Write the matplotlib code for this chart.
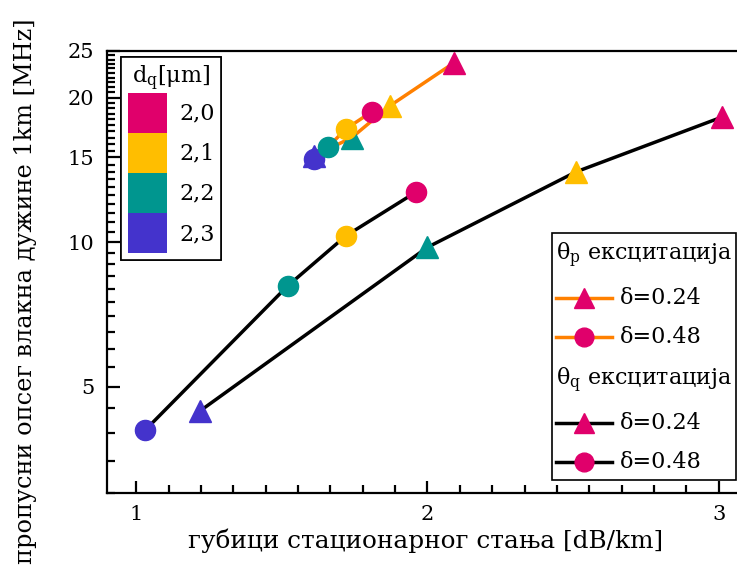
import numpy as np
import matplotlib
matplotlib.use("Agg")
import matplotlib.pyplot as plt
from matplotlib.ticker import FixedLocator, FuncFormatter, NullFormatter, AutoMinorLocator
from matplotlib.patches import Patch
from matplotlib.lines import Line2D
from matplotlib.offsetbox import (AnchoredOffsetbox, DrawingArea, HPacker,
                                  TextArea, VPacker)

plt.rcParams["font.family"] = ["DejaVu Serif"]
plt.rcParams["mathtext.fontset"] = "dejavuserif"

# ── Data ─────────────────────────────────────────────────
dq_labels = ["2,3", "2,2", "2,1", "2,0"]
dq_colors = ["#4433CC", "#00968F", "#FFBE00", "#E0006B"]

# theta_p excitation
p_tri_x = [1.61, 1.74, 1.87, 2.09]
p_tri_y = [15.1, 16.5, 19.2, 23.6]
p_circ_x = [1.61, 1.66, 1.72, 1.81]
p_circ_y = [14.9, 15.8, 17.2, 18.7]

# theta_q excitation
q_tri_x = [1.22, 2.00, 2.51, 3.01]
q_tri_y = [4.45, 9.75, 14.0, 18.2]
q_circ_x = [1.03, 1.52, 1.72, 1.96]
q_circ_y = [4.05, 8.1, 10.3, 12.7]

orange = "#FF8000"
tri_ms = 16
circ_ms = 14.5

fig = plt.figure(figsize=(7.37, 5.70), dpi=100)
ax = fig.add_axes([107 / 737, 1 - 493 / 570, (745 - 107) / 737, (493 - 51) / 570])

# ── Lines + markers ──────────────────────────────────────
for xs, ys, col, mk, ms in [
    (q_tri_x, q_tri_y, "black", "^", tri_ms),
    (q_circ_x, q_circ_y, "black", "o", circ_ms),
    (p_tri_x, p_tri_y, orange, "^", tri_ms),
    (p_circ_x, p_circ_y, orange, "o", circ_ms),
]:
    ax.plot(xs, ys, color=col, lw=2.5, zorder=2)
    for x, y, c in zip(xs, ys, dq_colors):
        ax.plot(x, y, marker=mk, ms=ms, color=c, mec=c, ls="none", zorder=3)

# ── Axes ─────────────────────────────────────────────────
ax.set_yscale("log")
ax.set_ylim(3, 25)
ax.set_xlim(0.9, 3.09)
ax.yaxis.set_major_locator(FixedLocator([5, 10, 15, 20, 25]))
ax.yaxis.set_major_formatter(FuncFormatter(lambda v, _: f"{v:g}"))
ax.yaxis.set_minor_locator(FixedLocator(np.arange(3, 25.01, 0.5)))
ax.yaxis.set_minor_formatter(NullFormatter())
ax.xaxis.set_major_locator(FixedLocator([1, 2, 3]))
ax.xaxis.set_minor_locator(AutoMinorLocator(9))
ax.tick_params(which="both", direction="in", top=False, right=False,
               labelsize=15, width=1.6)
ax.tick_params(which="major", length=9, pad=9)
ax.tick_params(which="minor", length=5.5)
for s in ax.spines.values():
    s.set_linewidth(1.6)
ax.spines["right"].set_visible(False)

ax.set_xlabel("губици стационарног стања [dB/km]", fontsize=17.8, labelpad=3)
ax.set_ylabel("пропусни опсег влакна дужине 1km [MHz]", fontsize=17.3)
ax.yaxis.set_label_coords(-0.11, 0.457)

# ── d_q colour legend ────────────────────────────────────
handles = [Patch(facecolor=c, edgecolor="none") for c in dq_colors[::-1]]
leg1 = ax.legend(handles, dq_labels[::-1], title="d$_\\mathrm{q}$[μm]",
                 loc="upper left", bbox_to_anchor=(121 / 737, 1 - 57 / 570),
                 bbox_transform=fig.transFigure, fontsize=16, title_fontsize=16,
                 handlelength=1.76, handleheight=2.4, labelspacing=0,
                 handletextpad=0.55, borderpad=0.3, borderaxespad=0,
                 fancybox=False, edgecolor="black", framealpha=1)
leg1.get_frame().set_linewidth(1.2)
ax.add_artist(leg1)


# ── excitation legend ────────────────────────────────────
def sample(col, mk, ms):
    da = DrawingArea(40, 20, 0, 0)
    da.add_artist(Line2D([0, 40], [10, 10], color=col, lw=2.5))
    da.add_artist(Line2D([20], [10], marker=mk, ms=ms, color=dq_colors[3],
                         mec=dq_colors[3], ls="none"))
    return da


tp = dict(fontsize=16)
rows = []
for name, col in [("θ$_\\mathrm{p}$ ексцитација", orange),
                  ("θ$_\\mathrm{q}$ ексцитација", "black")]:
    rows.append(VPacker(children=[DrawingArea(1, 3), TextArea(name, textprops=tp),
                                  DrawingArea(1, 2)], align="left", pad=0, sep=0))
    rows.append(HPacker(children=[sample(col, "^", tri_ms - 1),
                                  TextArea("δ=0.24", textprops=tp)],
                        align="center", pad=0, sep=6))
    rows.append(HPacker(children=[sample(col, "o", circ_ms - 1),
                                  TextArea("δ=0.48", textprops=tp)],
                        align="center", pad=0, sep=6))
box = VPacker(children=rows, align="left", pad=3, sep=8)
anch = AnchoredOffsetbox(loc="upper left", child=box, pad=0, borderpad=0,
                         bbox_to_anchor=(552 / 737, 1 - 233 / 570),
                         bbox_transform=fig.transFigure, frameon=True)
anch.patch.set_linewidth(1.2)
anch.patch.set_edgecolor("black")
ax.add_artist(anch)

plt.savefig("out.png", dpi=100)
